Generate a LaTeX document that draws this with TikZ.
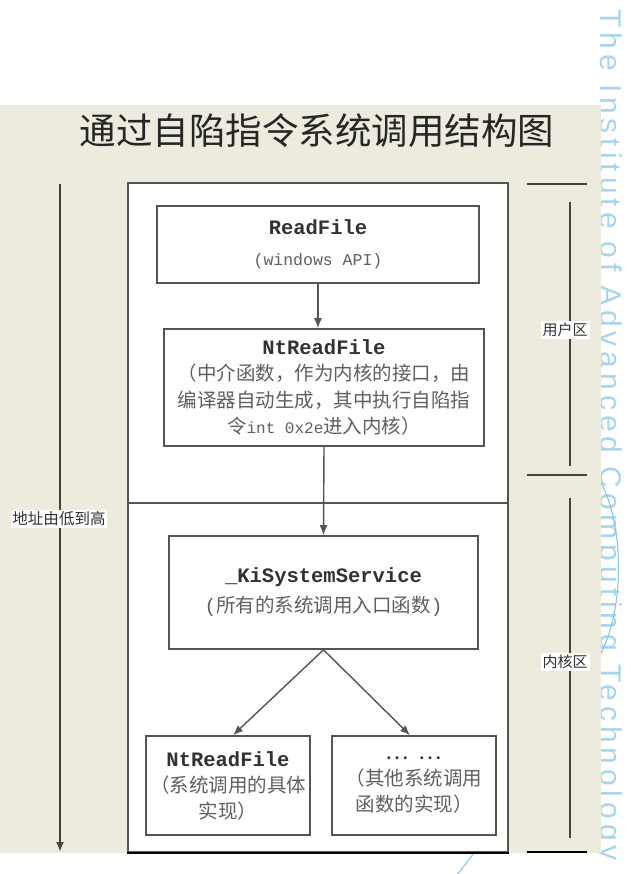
\documentclass[tikz,border=0pt]{standalone}
\usepackage{fontspec}
\usetikzlibrary{arrows.meta}
\newfontfamily\cjk{Noto Sans CJK SC}
\newfontfamily\mono{Liberation Mono}
\newfontfamily\wmfont[LetterSpace=16.5]{Liberation Sans}
\definecolor{paper}{RGB}{236,235,221}
\definecolor{ink}{RGB}{68,68,60}
\definecolor{boxline}{RGB}{85,85,80}
\definecolor{txtdark}{RGB}{50,50,50}
\definecolor{txtgray}{RGB}{95,95,95}
\definecolor{wmblue}{RGB}{168,213,238}
\definecolor{arcblue}{RGB}{135,197,233}
% function name, bold typewriter
\newcommand{\fname}[1]{{\mono\bfseries\fontsize{20.5}{26}\selectfont\color{txtdark}#1}}
\begin{document}
\begin{tikzpicture}[x=1pt,y=-1pt,
  fnbox/.style={draw=boxline, line width=1.6pt, fill=white, inner sep=0pt,
    align=center, text=txtgray},
  flow/.style={draw=boxline, line width=1.4pt, -{Latex[length=10pt,width=8pt]}},
  zonebar/.style={draw=ink, line width=2pt},
  zonelabel/.style={fill=white, inner sep=2pt, text=txtdark,
    font=\cjk\fontsize{15}{17}\selectfont},
]
\useasboundingbox (0,0) rectangle (630,874);

% watermark along the right edge
\node[anchor=base west, rotate=-90, inner sep=0pt, text=wmblue,
  font=\wmfont\fontsize{30}{32}\selectfont] (wm) at (600,9)
  {The Institute of Advanced Computing Technology};
\draw[arcblue, line width=1.1pt] (598,478) .. controls (625,520) and (625,610) .. (600,655);
\coordinate (wmA) at (457,875);
\coordinate (wmB) at (474,853);
\draw[arcblue, line width=1.1pt] (wmA) -- (wmB);

% paper background
\fill[paper] (0,105) rectangle (601,853);

% title
\node[font=\cjk\fontsize{36.5}{40}\selectfont, text=black!85] (title) at (317,131)
  {通过自陷指令系统调用结构图};

% address direction arrow
\coordinate (addrTop) at (60,184);
\coordinate (addrEnd) at (60,852);
\draw[ink, line width=2pt, -{Latex[length=10pt,width=8pt]}] (addrTop) -- (addrEnd);
\node[fill=white, inner sep=1.5pt, text=txtdark, font=\cjk\fontsize{15.5}{17}\selectfont]
  (addr) at (59,519) {地址由低到高};

% outer frame split into user part and kernel part
\node[draw=boxline, line width=2pt, fill=white, inner sep=0pt,
  minimum width=380pt, minimum height=669pt] (outer) at (318,517.5) {};
\draw[black, line width=2.6pt] (outer.south west) -- (outer.south east);
\coordinate (divL) at (128,503);
\coordinate (divR) at (508,503);
\draw[boxline, line width=2pt] (divL) -- (divR);

% call chain
\node[fnbox, minimum width=322pt, minimum height=77pt,
  font=\fontsize{16.5}{31}\selectfont] (rf) at (318,244.5)
  {\fname{ReadFile}\\{\mono(windows API)}};

\node[fnbox, minimum width=320pt, minimum height=117pt,
  font=\cjk\fontsize{19.5}{26.3}\selectfont] (nt) at (324,387.5)
  {\fname{NtReadFile}\\（中介函数，作为内核的接口，由\\编译器自动生成，其中执行自陷指\\令{\mono\fontsize{16}{26}\selectfont int 0x2e}进入内核）};

\node[fnbox, minimum width=309pt, minimum height=113pt,
  font=\cjk\fontsize{19.5}{30}\selectfont] (ks) at (323.5,592.5)
  {\fname{\_KiSystemService}\\{\mono(}所有的系统调用入口函数{\mono)}};

\node[fnbox, minimum width=164pt, minimum height=99pt,
  font=\cjk\fontsize{19.5}{26}\selectfont] (impl) at (228,785.5)
  {\fname{NtReadFile}\\（系统调用的具体\\实现）};

\node[fnbox, minimum width=164pt, minimum height=99pt,
  font=\cjk\fontsize{19.5}{26}\selectfont] (other) at (414,785.5)
  {{\color{txtdark}\fontsize{22}{26}\selectfont…\hspace{10pt}…}\\（其他系统调用\\函数的实现）};

\draw[flow] (rf.south) -- (rf.south |- nt.north);
\draw[flow] (nt.south) -- (ks.north);
\draw[flow] (ks.south) -- ([xshift=5pt]impl.north);
\draw[flow] (ks.south) -- ([xshift=-4pt]other.north);

% zone brackets on the right
\coordinate (uTopL) at (527,184);
\coordinate (uTopR) at (587,184);
\coordinate (uBarT) at (570,202);
\coordinate (uBarB) at (570,466);
\coordinate (midL) at (527,475);
\coordinate (midR) at (587,475);
\coordinate (kBarT) at (570,498);
\coordinate (kBarB) at (570,838);
\coordinate (botL) at (527,852);
\coordinate (botR) at (587,852);
\draw[zonebar] (uTopL) -- (uTopR);
\draw[zonebar] (uBarT) -- (uBarB);
\draw[zonebar] (midL) -- (midR);
\draw[zonebar] (kBarT) -- (kBarB);
\draw[black, line width=2.4pt] (botL) -- (botR);
\node[zonelabel] (userzone) at (565,330) {用户区};
\node[zonelabel] (kernzone) at (565,662) {内核区};
\end{tikzpicture}
\end{document}
